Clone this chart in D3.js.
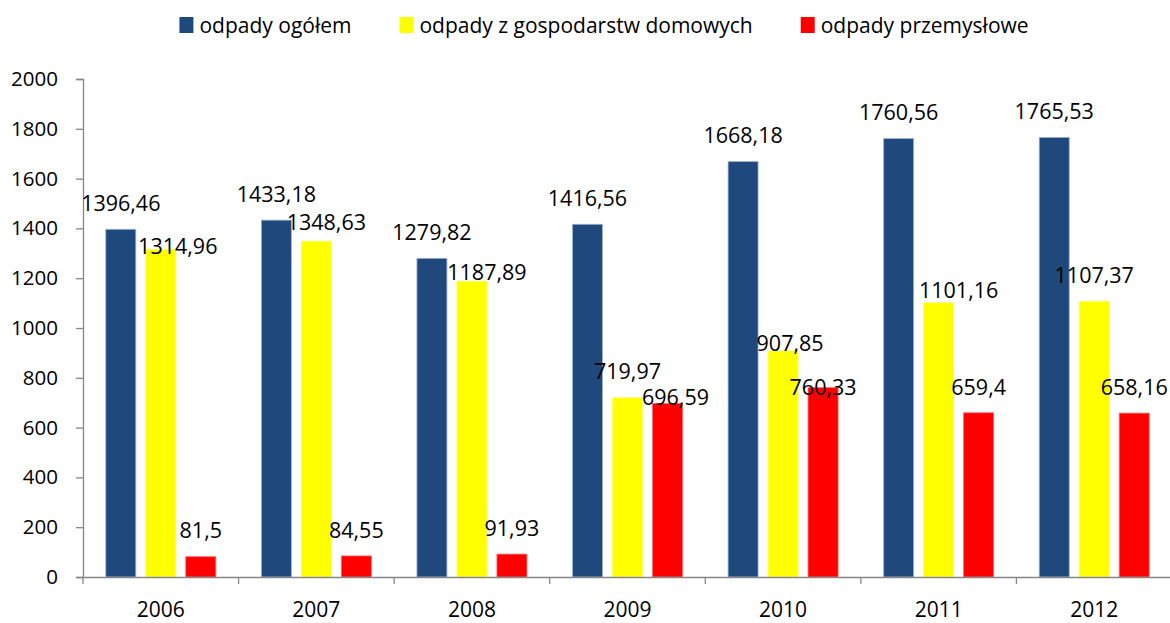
<!DOCTYPE html>
<html>
<head>
<meta charset="utf-8">
<script src="https://cdn.jsdelivr.net/npm/d3@7"></script>
<style>
  html, body { margin: 0; padding: 0; background: #fff; }
  svg { display: block; }
  text { font-family: "Open Sans", sans-serif; fill: #000; }
</style>
</head>
<body>
<svg id="chart" width="1170" height="623"></svg>
<script>
// ---- data ----
const years = ["2006", "2007", "2008", "2009", "2010", "2011", "2012"];
const seriesNames = ["odpady ogółem", "odpady z gospodarstw domowych", "odpady przemysłowe"];
const ogolem = [1396.46, 1433.18, 1279.82, 1416.56, 1668.18, 1760.56, 1765.53];
const domowe = [1314.96, 1348.63, 1187.89, 719.97, 907.85, 1101.16, 1107.37];
const przemyslowe = [81.5, 84.55, 91.93, 696.59, 760.33, 659.4, 658.16];
const yTicks = [0, 200, 400, 600, 800, 1000, 1200, 1400, 1600, 1800, 2000];

// ---- style / layout ----
const colors = ["#1F497D", "#FFFF00", "#FF0000"];
const strokes = ["#9DB3D3", "#FFFF66", "#FF6666"];
// label nudges (dx, dy relative to default position) to mimic the original's label placement
const labelNudge = [
  [[0,0],[0,0],[0,0],[0,0],[0,0],[0,0],[0,0]],
  [[17,23],[10,7],[15,17],[0,0],[7,18],[20,13],[0,0]],
  [[0,0],[0,0],[0,0],[8,20],[0,26],[0,0],[0,0]]
];
const allSeries = [ogolem, domowe, przemyslowe];

const svg = d3.select("#chart");
const mLeft = 83, mRight = 1172, mTop = 79, mBottom = 577;

const x0 = d3.scaleBand().domain(years).range([mLeft, mRight]).paddingInner(0).paddingOuter(0);
const x1 = d3.scaleBand().domain(d3.range(3)).range([0, x0.bandwidth()]).paddingInner(0.25).paddingOuter(0.57);
const y = d3.scaleLinear().domain([0, 2000]).range([mBottom, mTop]);

// bars
const groups = svg.append("g").selectAll("g").data(years).join("g")
  .attr("transform", d => `translate(${x0(d)},0)`);

groups.each(function(yr, i) {
  const g = d3.select(this);
  allSeries.forEach((vals, s) => {
    g.append("rect")
      .attr("x", x1(s))
      .attr("y", y(vals[i]))
      .attr("width", x1.bandwidth())
      .attr("height", y(0) - y(vals[i]))
      .attr("fill", colors[s])
      .attr("stroke", strokes[s])
      .attr("stroke-width", 0.8);
  });
});

// y axis
const yAxis = d3.axisLeft(y).tickValues(yTicks).tickSize(7).tickPadding(18).tickFormat(d3.format("d"));
const gy = svg.append("g").attr("transform", `translate(${mLeft},0)`).call(yAxis);
gy.select(".domain").attr("stroke", "#868686").attr("stroke-width", 1.3);
gy.selectAll(".tick line").attr("stroke", "#868686").attr("stroke-width", 1.3);
gy.selectAll(".tick text").style("font-size", "20.5px").style("font-family", "'Open Sans', sans-serif").attr("fill", "#000");

// x axis
const xAxis = d3.axisBottom(x0).tickSize(0).tickPadding(25);
const gx = svg.append("g").attr("transform", `translate(0,${mBottom})`).call(xAxis);
gx.select(".domain").attr("stroke", "#868686").attr("stroke-width", 1.3);
gx.selectAll(".tick text").style("font-size", "21px").style("font-family", "'Open Sans', sans-serif").attr("fill", "#000");
// category boundary tick marks
gx.selectAll(".boundary").data(years.slice(1)).join("line")
  .attr("class", "boundary")
  .attr("x1", d => x0(d)).attr("x2", d => x0(d))
  .attr("y1", 0).attr("y2", 7)
  .attr("stroke", "#868686").attr("stroke-width", 1.3);
gx.append("line").attr("x1", mLeft).attr("x2", mLeft).attr("y1", 0).attr("y2", 7)
  .attr("stroke", "#868686").attr("stroke-width", 1.3);

// data labels
const fmt = v => String(v).replace(".", ",");
const labels = svg.append("g");
years.forEach((yr, i) => {
  allSeries.forEach((vals, s) => {
    const nd = labelNudge[s][i];
    labels.append("text")
      .attr("x", x0(yr) + x1(s) + x1.bandwidth() / 2 + nd[0])
      .attr("y", y(vals[i]) - 26 + nd[1])
      .attr("dy", "0.36em")
      .attr("text-anchor", "middle")
      .style("font-size", "21.5px")
      .text(fmt(vals[i]));
  });
});

// legend
const legend = svg.append("g");
let lx = 0;
seriesNames.forEach((name, s) => {
  const it = legend.append("g");
  it.append("rect").attr("x", 0).attr("y", 17).attr("width", 14).attr("height", 16).attr("fill", colors[s]);
  const t = it.append("text").attr("x", 20).attr("y", 25).attr("dy", "0.36em").style("font-size", "21px").text(name);
  const w = 20 + t.node().getComputedTextLength();
  it.attr("transform", `translate(${lx},0)`);
  lx += w + 48;
});
const totalW = lx - 48;
legend.attr("transform", `translate(${604 - totalW / 2},0)`);
</script>
</body>
</html>
